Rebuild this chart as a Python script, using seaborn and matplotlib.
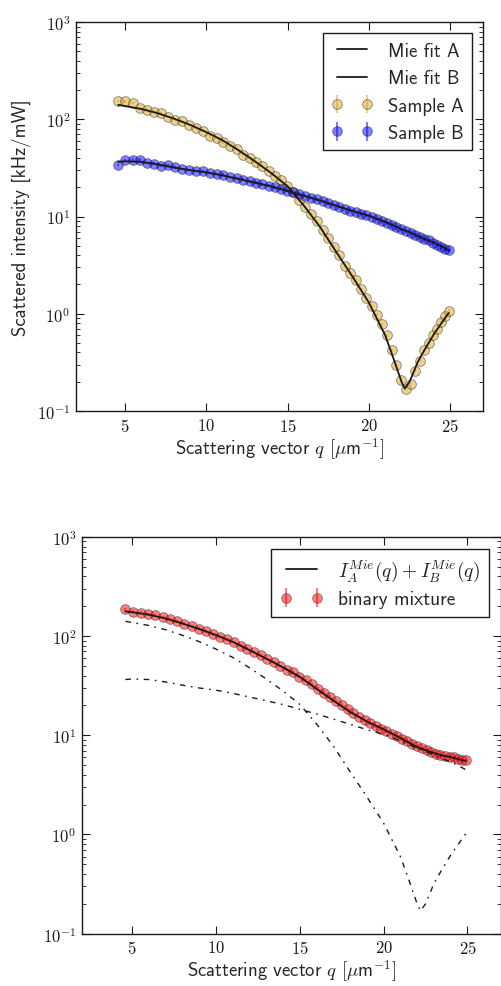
import numpy as np
import seaborn as sns
import matplotlib.pyplot as plt
from matplotlib.ticker import FuncFormatter, NullFormatter

sns.set_theme(style="ticks")
plt.rcParams['font.family'] = ['cmss10', 'DejaVu Sans']
plt.rcParams['mathtext.fontset'] = 'cm'
plt.rcParams['axes.unicode_minus'] = False

# measured points (scattering vector in 1/um)
q = [4.6, 5.05, 5.5, 5.94, 6.38, 6.82, 7.26, 7.69, 8.12, 8.55, 8.98, 9.40, 9.82,
     10.24, 10.65, 11.06, 11.47, 11.87, 12.27, 12.67, 13.06, 13.45, 13.84, 14.22,
     14.60, 14.98, 15.35, 15.72, 16.08, 16.44, 16.80, 17.15, 17.50, 17.85, 18.19,
     18.53, 18.86, 19.19, 19.52, 19.84, 20.16, 20.47, 20.78, 21.09, 21.39, 21.69,
     21.98, 22.27, 22.56, 22.84, 23.12, 23.39, 23.66, 23.93, 24.19, 24.45, 24.70, 24.9]

sample_a = [154, 153, 148, 131, 126, 120, 116, 106, 98, 96, 87, 82, 76,
            67, 64, 58, 53, 50, 43, 40, 36, 33, 29.5, 26,
            23.5, 20.8, 17.8, 14.8, 12.5, 10.6, 8.9, 7.3, 6.0, 4.9, 4.0,
            3.1, 2.6, 2.2, 1.8, 1.45, 1.2, 0.98, 0.78, 0.6, 0.42, 0.3,
            0.21, 0.17, 0.19, 0.26, 0.33, 0.42, 0.5, 0.6, 0.7, 0.82, 0.95, 1.08]

sample_b = [34, 38, 38.5, 38.5, 35.5, 35, 33, 33.5, 32, 31, 30, 29.5, 29.5,
            28, 27.5, 27, 25.5, 25, 24, 23, 22.3, 21.5, 20.8, 20,
            19.4, 18.5, 17.9, 17.2, 16.3, 15.6, 15.0, 14.4, 13.7, 13.1, 12.6,
            12.0, 11.5, 11.1, 10.6, 10.3, 9.9, 9.4, 9.0, 8.6, 8.2, 7.8,
            7.4, 7.1, 6.8, 6.5, 6.2, 5.9, 5.7, 5.4, 5.1, 4.9, 4.6, 4.5]

mixture = [186, 176, 172, 166, 162, 156, 149, 142, 134, 126, 119, 112, 104,
           98, 93, 87, 80, 75, 69, 64, 59, 55, 50, 46,
           43, 39, 36, 33, 29.5, 27, 24.5, 22, 20, 18.5, 16.8,
           15.3, 14.2, 13.2, 12.3, 11.6, 11.0, 10.4, 9.8, 9.2, 8.7, 8.2,
           7.8, 7.4, 7.1, 6.8, 6.5, 6.3, 6.2, 6.1, 6.0, 5.8, 5.7, 5.6]

# Mie fits
q_fit = [4.6, 5, 6, 7, 8, 9, 10, 11, 12, 13, 14, 15, 16, 17, 18, 19, 20, 21,
         21.5, 22, 22.2, 22.5, 23, 23.5, 24, 24.5, 24.9]
fit_a = [141, 137, 128, 116, 102, 88, 74, 61, 48, 37, 28, 20.5, 13, 7.8, 4.3,
         2.4, 1.3, 0.6, 0.35, 0.2, 0.17, 0.2, 0.32, 0.45, 0.62, 0.82, 1.02]
fit_b = [36.5, 37, 36.5, 34.5, 32, 30, 28.5, 26.5, 24.3, 22.3, 20.4, 18.3, 16.4,
         14.6, 12.9, 11.4, 10.2, 8.8, 8.1, 7.4, 7.2, 6.9, 6.3, 5.8, 5.4, 4.9, 4.5]
fit_mix = np.array(fit_a) + np.array(fit_b)

rel_err = 0.03

fig = plt.figure(figsize=(5.02, 9.87), dpi=100)
ax1 = fig.add_axes([0.151, 0.5826, 0.811, 0.394])
ax2 = fig.add_axes([0.163, 0.053, 0.835, 0.402])

log_fmt = FuncFormatter(lambda v, p: r'$10^{%d}$' % int(round(np.log10(v))))
lin_fmt = FuncFormatter(lambda v, p: r'$%d$' % v)


def style_axes(ax):
    ax.set_yscale('log')
    ax.set_xlim(2, 27)
    ax.set_ylim(0.1, 1000)
    ax.set_xticks([5, 10, 15, 20, 25])
    ax.xaxis.set_major_formatter(lin_fmt)
    ax.yaxis.set_major_formatter(log_fmt)
    ax.yaxis.set_minor_formatter(NullFormatter())
    ax.tick_params(which='both', direction='in', top=True, right=True,
                   labelsize=12, colors='k')
    ax.tick_params(which='major', length=6, width=0.8, pad=4)
    ax.tick_params(which='minor', length=3, width=0.6)
    ax.tick_params(axis='x', which='minor', bottom=False, top=False)
    for s in ax.spines.values():
        s.set_color('k')
        s.set_linewidth(1.0)
    ax.set_xlabel(r'Scattering vector $q$ $[\mu$m$^{-1}]$', fontsize=13.5, labelpad=1)


def make_legend(ax, handles, labels, size, spacing):
    leg = ax.legend(handles, labels, loc='upper right', numpoints=2, fontsize=size,
                    fancybox=False, framealpha=1, edgecolor='k', borderaxespad=0.6,
                    handlelength=2.2, labelspacing=spacing, borderpad=0.45)
    leg.get_frame().set_linewidth(1.0)


# top panel
sns.lineplot(x=q_fit, y=fit_a, color='k', lw=1.3, ax=ax1, estimator=None, sort=False)
sns.lineplot(x=q_fit, y=fit_b, color='k', lw=1.3, ax=ax1, estimator=None, sort=False)
ea = ax1.errorbar(q, sample_a, yerr=np.array(sample_a) * rel_err, fmt='o', ms=7,
                  mew=0.6, color='goldenrod', mec='k', alpha=0.5, zorder=1)
eb = ax1.errorbar(q, sample_b, yerr=np.array(sample_b) * rel_err, fmt='o', ms=7,
                  mew=0.6, color='blue', mec='k', alpha=0.5, zorder=1)
style_axes(ax1)
ax1.set_ylabel('Scattered intensity [kHz/mW]', fontsize=13.5, labelpad=4)
make_legend(ax1, [ax1.lines[0], ax1.lines[1], ea, eb],
            ['Mie fit A', 'Mie fit B', 'Sample A', 'Sample B'], 13.5, 0.5)

# bottom panel
sns.lineplot(x=q_fit, y=fit_mix, color='k', lw=1.3, ax=ax2, estimator=None, sort=False)
sns.lineplot(x=q_fit, y=fit_a, color='k', lw=1.0, ax=ax2, estimator=None, sort=False)
sns.lineplot(x=q_fit, y=fit_b, color='k', lw=1.0, ax=ax2, estimator=None, sort=False)
for ln in ax2.lines[1:3]:
    ln.set_dashes((4, 4, 1.2, 4))
em = ax2.errorbar(q, mixture, yerr=np.array(mixture) * rel_err, fmt='o', ms=7,
                  mew=0.6, color='red', mec='k', alpha=0.5, zorder=1)
style_axes(ax2)
make_legend(ax2, [ax2.lines[0], em],
            [r'$I_A^{Mie}(q)+I_B^{Mie}(q)$', 'binary mixture'], 14, 0.4)

fig.savefig('out.png', dpi=100)
